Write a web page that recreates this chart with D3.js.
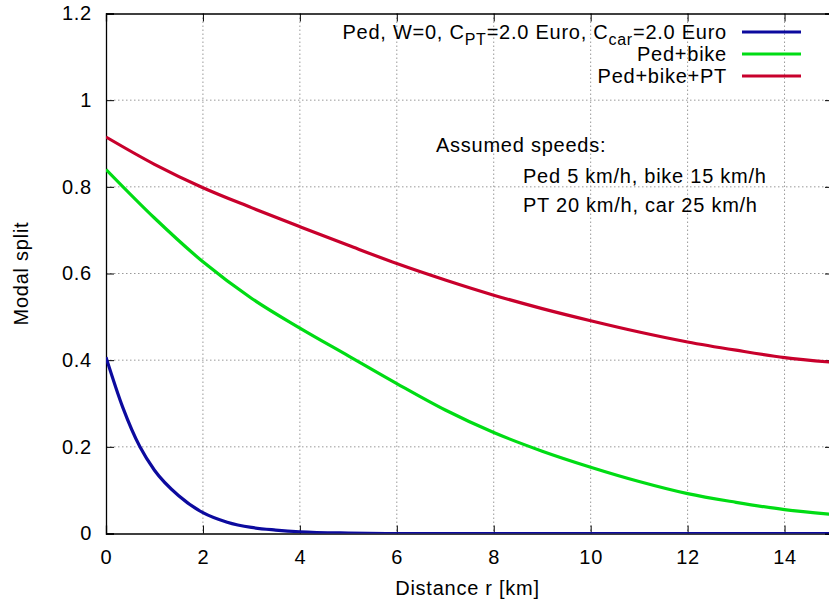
<!DOCTYPE html>
<html>
<head>
<meta charset="utf-8">
<script src="https://cdn.jsdelivr.net/npm/d3@7"></script>
<style>
  body { margin: 0; background: #fff; }
  svg text { font-family: "Liberation Sans", Arial, sans-serif; font-size: 20px; letter-spacing: 0.75px; fill: #000; }
</style>
</head>
<body>
<svg id="chart" width="829" height="601"></svg>
<script>
// distance r [km] and modal split
var pedR   = [0, 0.35, 0.7, 1, 1.5, 2, 2.5, 3, 3.5, 4, 5, 6, 8, 10, 12, 14, 15];
var pedV   = [0.407, 0.29, 0.2, 0.146, 0.087, 0.048, 0.026, 0.014, 0.008, 0.004, 0.001, 0, 0, 0, 0, 0, 0];
var bikeR  = [0, 1, 2, 3, 4, 5, 6, 7, 8, 9, 10, 11, 12, 13, 14, 15];
var bikeV  = [0.84, 0.728, 0.627, 0.543, 0.474, 0.41, 0.346, 0.285, 0.233, 0.19, 0.153, 0.12, 0.092, 0.072, 0.055, 0.044];
var ptR    = [0, 1, 2, 3, 4, 5, 6, 7, 8, 9, 10, 11, 12, 13, 14, 15];
var ptV    = [0.915, 0.852, 0.798, 0.752, 0.708, 0.665, 0.623, 0.585, 0.55, 0.519, 0.491, 0.465, 0.442, 0.423, 0.406, 0.395];

var xTicks = [0, 2, 4, 6, 8, 10, 12, 14];
var yTicks = [0, 0.2, 0.4, 0.6, 0.8, 1, 1.2];

var series = [
  { name: "ped",  r: pedR,  v: pedV,  color: "#0c0a9e" },
  { name: "bike", r: bikeR, v: bikeV, color: "#00dc14" },
  { name: "pt",   r: ptR,   v: ptV,   color: "#c8002c" }
];

var svg = d3.select("#chart"),
    margin = {top: 13.5, left: 106},
    width = 727,
    height = 520;

var x = d3.scaleLinear().domain([0, 15]).range([0, width]),
    y = d3.scaleLinear().domain([0, 1.2]).range([height, 0]);

var g = svg.append("g")
    .attr("transform", "translate(" + margin.left + "," + margin.top + ")");

g.append("clipPath").attr("id", "clip")
  .append("rect").attr("width", width).attr("height", height);

// dotted grid
g.selectAll(".gx").data(xTicks.slice(1)).enter().append("line")
    .attr("x1", function(d) { return x(d); }).attr("x2", function(d) { return x(d); })
    .attr("y1", 0).attr("y2", height)
    .attr("stroke", "#999").attr("stroke-width", 1).attr("stroke-dasharray", "1.5,2.5");
g.selectAll(".gy").data(yTicks.slice(1, -1)).enter().append("line")
    .attr("y1", function(d) { return y(d); }).attr("y2", function(d) { return y(d); })
    .attr("x1", 0).attr("x2", width)
    .attr("stroke", "#999").attr("stroke-width", 1).attr("stroke-dasharray", "1.5,2.5");

// axes with inward ticks, labels on left/bottom
g.append("g")
    .attr("transform", "translate(0," + height + ")")
    .call(d3.axisBottom(x).tickValues(xTicks).tickSize(-8).tickPadding(16).tickFormat(d3.format("d")));
g.append("g")
    .call(d3.axisTop(x).tickValues(xTicks).tickSize(-8).tickFormat(""));
g.append("g")
    .call(d3.axisLeft(y).tickValues(yTicks).tickSize(-8).tickPadding(14)
      .tickFormat(function(d) { return d === 0 || d === 1 ? String(d) : d3.format(".1f")(d); }));
g.append("g")
    .attr("transform", "translate(" + width + ",0)")
    .call(d3.axisRight(y).tickValues(yTicks).tickSize(-8).tickFormat(""));

g.selectAll(".domain").attr("stroke", "#000").attr("stroke-width", 1.3);
g.selectAll(".tick line").attr("stroke", "#000").attr("stroke-width", 1);
g.selectAll(".tick text").attr("font-size", null).attr("font-family", null).style("font-size", "20px");

// curves
var line = d3.line()
    .x(function(d) { return x(d[0]); })
    .y(function(d) { return y(d[1]); })
    .curve(d3.curveMonotoneX);

g.append("g").attr("clip-path", "url(#clip)")
  .selectAll("path").data(series).enter().append("path")
    .attr("d", function(s) { return line(d3.zip(s.r, s.v)); })
    .attr("fill", "none")
    .attr("stroke", function(s) { return s.color; })
    .attr("stroke-width", 3.2);

// axis titles
svg.append("text")
    .attr("x", margin.left + width / 2 - 2).attr("y", 595)
    .attr("text-anchor", "middle")
    .text("Distance r [km]");
svg.append("text")
    .attr("transform", "translate(28," + (margin.top + height / 2) + ") rotate(-90)")
    .attr("text-anchor", "middle")
    .text("Modal split");

// legend
var legY = [32, 54, 76];
var leg0 = svg.append("text").attr("x", 727).attr("y", legY[0] + 7).attr("text-anchor", "end");
leg0.append("tspan").text("Ped, W=0, C");
leg0.append("tspan").attr("dy", 6).style("font-size", "16px").text("PT");
leg0.append("tspan").attr("dy", -6).text("=2.0 Euro, C");
leg0.append("tspan").attr("dy", 6).style("font-size", "16px").text("car");
leg0.append("tspan").attr("dy", -6).text("=2.0 Euro");
svg.append("text").attr("x", 727).attr("y", legY[1] + 7).attr("text-anchor", "end").text("Ped+bike");
svg.append("text").attr("x", 727).attr("y", legY[2] + 7).attr("text-anchor", "end").text("Ped+bike+PT");

svg.selectAll(".leg").data(series).enter().append("line")
    .attr("x1", 742).attr("x2", 801)
    .attr("y1", function(s, i) { return legY[i]; })
    .attr("y2", function(s, i) { return legY[i]; })
    .attr("stroke", function(s) { return s.color; })
    .attr("stroke-width", 3.2);

// annotation
svg.append("text").attr("x", 436).attr("y", 152).text("Assumed speeds:");
svg.append("text").attr("x", 523).attr("y", 183).text("Ped 5 km/h, bike 15 km/h");
svg.append("text").attr("x", 523).attr("y", 212).text("PT 20 km/h, car 25 km/h");
</script>
</body>
</html>
